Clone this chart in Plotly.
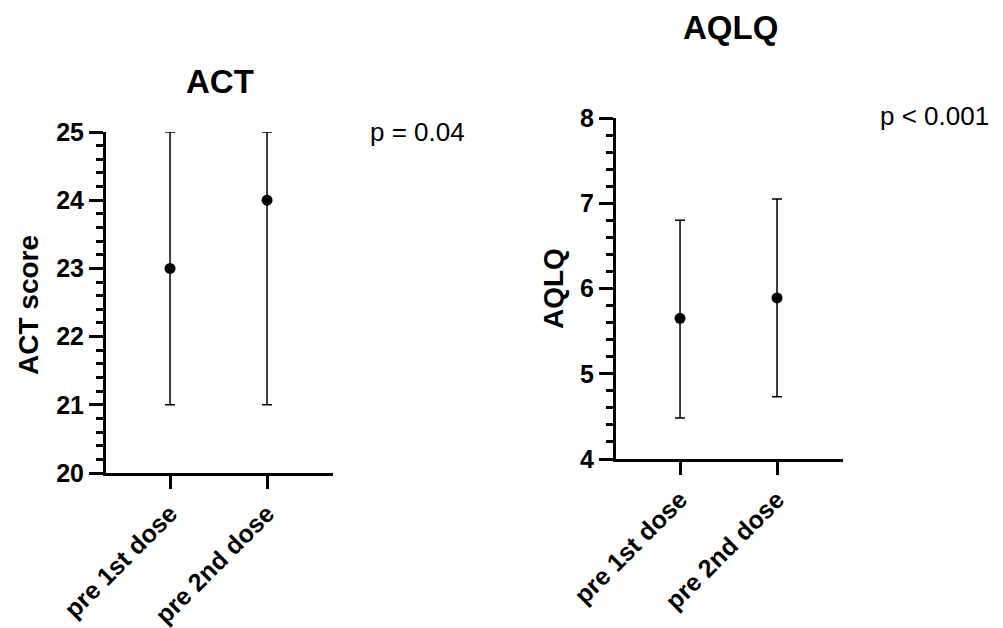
import plotly.graph_objects as go

categories = ["pre 1st dose", "pre 2nd dose"]

act_median = [23, 24]
act_low = [21, 21]
act_high = [25, 25]

aqlq_median = [5.65, 5.89]
aqlq_low = [4.48, 4.73]
aqlq_high = [6.80, 7.05]

act_ticks = [20, 21, 22, 23, 24, 25]
aqlq_ticks = [4, 5, 6, 7, 8]

W, H = 1003, 628
OFF = 8  # page body margin
FONT = "Liberation Sans, Arial, Helvetica, sans-serif"

def px(x):
    return (x - OFF) / W

def py(y):
    return 1 - (y - OFF) / H

fig = go.Figure()

def add_series(med, lo, hi, xa, ya):
    fig.add_trace(go.Scatter(
        x=[0, 1], y=med, mode="markers",
        marker=dict(color="black", size=11),
        error_y=dict(type="data", symmetric=False,
                     array=[h - m for h, m in zip(hi, med)],
                     arrayminus=[m - l for m, l in zip(med, lo)],
                     color="black", thickness=1.5, width=5),
        xaxis=xa, yaxis=ya, showlegend=False, cliponaxis=False,
    ))

add_series(act_median, act_low, act_high, "x", "y")
add_series(aqlq_median, aqlq_low, aqlq_high, "x2", "y2")

xcommon = dict(
    tickmode="array", tickvals=[0, 1], ticktext=categories,
    range=[-0.66, 1.68], showline=True, linewidth=3, linecolor="black",
    ticks="outside", ticklen=13, tickwidth=3, tickcolor="black",
    tickangle=-45, showgrid=False, zeroline=False, automargin=False,
    tickfont=dict(family=FONT, size=25, color="black", weight="bold"),
)
ycommon = dict(
    showline=True, linewidth=3, linecolor="black",
    ticks="outside", ticklen=14, tickwidth=3, tickcolor="black",
    showgrid=False, zeroline=False, automargin=False,
    tickfont=dict(family=FONT, size=25, color="black", weight="bold"),
    minor=dict(dtick=0.2, ticks="outside", ticklen=7, tickwidth=3,
               tickcolor="black", showgrid=False),
)

fig.update_layout(
    width=W, height=H,
    margin=dict(l=0, r=0, t=0, b=0),
    paper_bgcolor="white", plot_bgcolor="white",
    xaxis=dict(domain=[px(106), px(333)], anchor="y", **xcommon),
    yaxis=dict(domain=[py(473), py(132)], anchor="x", range=[20, 25],
               tickvals=act_ticks, **ycommon),
    xaxis2=dict(domain=[px(616), px(843)], anchor="y2", **xcommon),
    yaxis2=dict(domain=[py(459), py(118)], anchor="x2", range=[4, 8],
                tickvals=aqlq_ticks, **ycommon),
)

ann = [
    dict(text="ACT", x=px(220), y=py(82), size=33, bold=True),
    dict(text="AQLQ", x=px(730), y=py(28), size=33, bold=True),
    dict(text="ACT score", x=px(29), y=py(305), size=28, bold=True, angle=-90),
    dict(text="AQLQ", x=px(553), y=py(289), size=28, bold=True, angle=-90),
]
for a in ann:
    fig.add_annotation(
        text=a["text"], x=a["x"], y=a["y"], xref="paper", yref="paper",
        xanchor="center", yanchor="middle", showarrow=False,
        textangle=a.get("angle", 0),
        font=dict(family=FONT, size=a["size"], color="black",
                  weight="bold" if a["bold"] else "normal"),
    )

for text, x, y in [("p = 0.04", 368, 132), ("p < 0.001", 878, 116)]:
    fig.add_annotation(
        text=text, x=px(x), y=py(y), xref="paper", yref="paper",
        xanchor="left", yanchor="middle", showarrow=False,
        font=dict(family=FONT, size=26, color="black"),
    )

fig.write_html("out.html")
